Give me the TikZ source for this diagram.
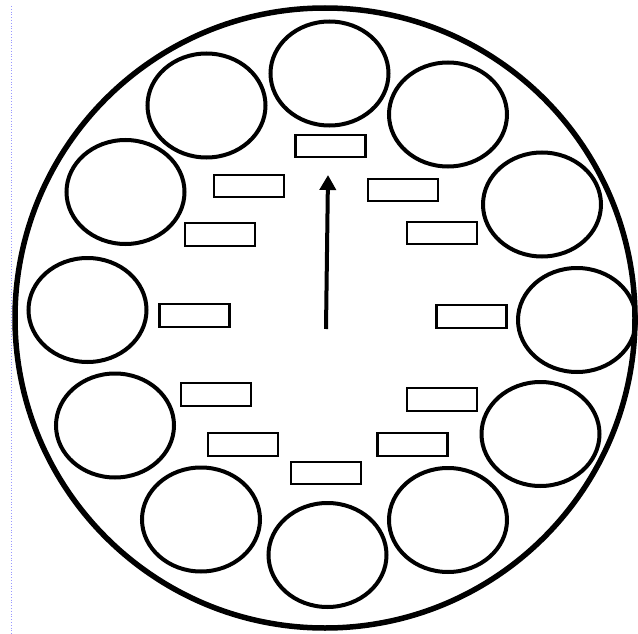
\documentclass[tikz,border=0pt]{standalone}
\usetikzlibrary{shapes.geometric,arrows.meta}
\begin{document}
\begin{tikzpicture}[x=1pt,y=-1pt,
  facestyle/.style={draw=black,circle,line width=5.5pt,inner sep=0pt,minimum size=620pt},
  slot/.style={draw=black,ellipse,line width=4pt,inner sep=0pt,minimum width=118pt,minimum height=104pt},
  tag/.style={draw=black,rectangle,line width=2.2pt,inner sep=0pt,minimum width=70pt,minimum height=22.5pt},
  hand/.style={line width=4pt,-{Triangle[width=16pt,length=15pt]}}]
\useasboundingbox (0,0) rectangle (638,634);
\fill[white] (0,0) rectangle (638,634);
\draw[draw=blue!40,line width=0.8pt,dotted] (11.7,6) coordinate (ma) -- (11.7,634) coordinate (mb);
\node[facestyle] (face) at (325,318) {};
% ellipses
\node[slot] (e1) at (329.5,73.5) {};
\node[slot] (e2) at (448,114.5) {};
\node[slot] (e3) at (542,204.5) {};
\node[slot] (e4) at (577,320) {};
\node[slot] (e5) at (540.5,434) {};
\node[slot] (e6) at (448,520) {};
\node[slot] (e7) at (327.5,555) {};
\node[slot] (e8) at (201,519.5) {};
\node[slot] (e9) at (115,425.5) {};
\node[slot] (e10) at (87.5,310) {};
\node[slot] (e11) at (125.5,192) {};
\node[slot] (e12) at (206.5,105.5) {};
% rectangles
\node[tag] (r1) at (330.5,146) {};
\node[tag] (r2) at (403,190) {};
\node[tag] (r3) at (442,233) {};
\node[tag] (r4) at (471.5,316.5) {};
\node[tag] (r5) at (442,399.5) {};
\node[tag] (r6) at (412.5,444.5) {};
\node[tag] (r7) at (326,473) {};
\node[tag] (r8) at (243,444.5) {};
\node[tag] (r9) at (216,394.5) {};
\node[tag] (r10) at (194.5,315.5) {};
\node[tag] (r11) at (220,234.5) {};
\node[tag] (r12) at (249,186) {};
% hand
\coordinate (tail) at (326,329);
\coordinate (tip) at (328,175);
\draw[hand] (tail) -- (tip);
\end{tikzpicture}
\end{document}
